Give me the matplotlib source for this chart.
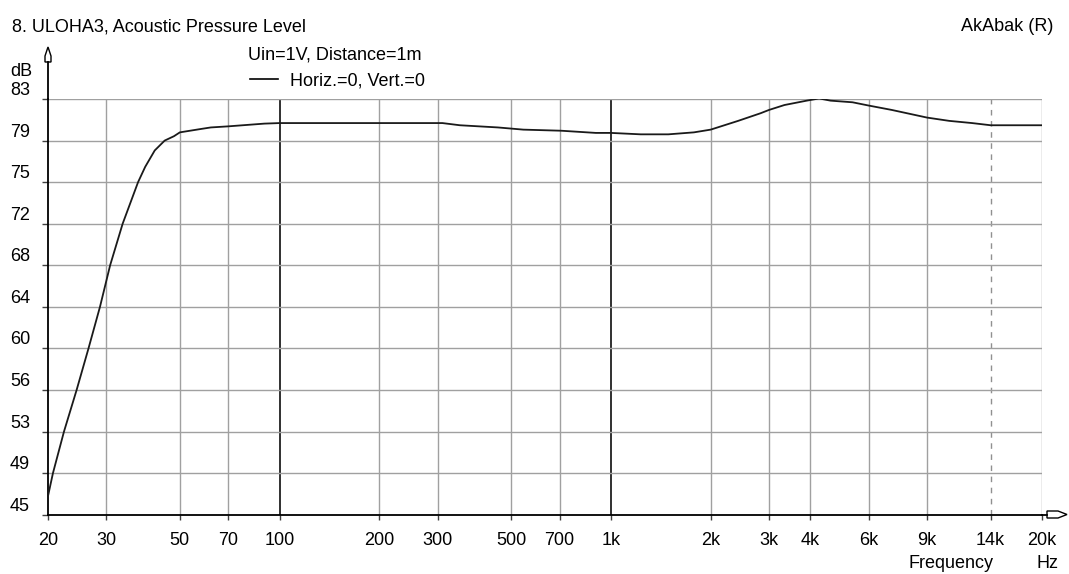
import numpy as np
import matplotlib
matplotlib.use("Agg")
import matplotlib.pyplot as plt
from matplotlib.lines import Line2D
from matplotlib.patches import Polygon

# data
freq = [20, 20.7, 22.35, 24.4, 26.5, 28.7, 30.8, 33.6, 37.4, 39.3, 42, 45, 48, 50, 57.6,
        62, 70, 90, 100, 200, 310, 350, 456, 544, 708, 900, 1000, 1230, 1490, 1780,
        2000, 2420, 2830, 3000, 3340, 3900, 4250, 4600, 5360, 6000, 7040, 9000,
        10500, 12300, 14000, 20000]
spl = [46.7, 48.8, 52.6, 56.4, 60.2, 64.0, 67.8, 71.6, 75.4, 76.8, 78.3, 79.2, 79.6,
       79.95, 80.25, 80.4, 80.5, 80.75, 80.8, 80.8, 80.8, 80.6, 80.4, 80.2, 80.1, 79.9,
       79.9, 79.77, 79.77, 79.95, 80.2, 81.0, 81.7, 82.0, 82.45, 82.85, 83.05, 82.85,
       82.7, 82.4, 82.0, 81.3, 81.0, 80.8, 80.6, 80.6]

xticks = [20, 30, 50, 70, 100, 200, 300, 500, 700, 1000, 2000, 3000, 4000, 6000,
          9000, 14000, 20000]
xlabels = ["20", "30", "50", "70", "100", "200", "300", "500", "700", "1k", "2k",
           "3k", "4k", "6k", "9k", "14k", "20k"]
yticks = [45 + 3.8 * i for i in range(11)]
ylabels = ["45", "49", "53", "56", "60", "64", "68", "72", "75", "79", "83"]

W, H = 1069, 574
plt.rcParams['font.family'] = ['Liberation Sans', 'DejaVu Sans']
fs = 13

fig = plt.figure(figsize=(W / 100, H / 100), dpi=100)
ax = fig.add_axes([48 / W, 1 - 514.7 / H, (1042 - 48) / W, (514.7 - 99) / H])


def px(x, y):
    return x / W, 1 - y / H


# grid
for f in xticks[1:]:
    if f in (100, 1000):
        ax.axvline(f, color='#202020', lw=1.3, zorder=1)
    elif f == 14000:
        ax.axvline(f, color='#909090', lw=1.0, ls=(0, (4, 4)), zorder=1)
    else:
        ax.axvline(f, color='#a0a0a0', lw=1.0, zorder=1)
for v in yticks[1:]:
    ax.axhline(v, color='#a0a0a0', lw=1.0, zorder=1)

ax.plot(freq, spl, color='#1a1a1a', lw=1.3, zorder=3)

ax.set_xscale('log')
ax.set_xlim(20, 20000)
ax.set_ylim(45, 83)
ax.set_xticks(xticks)
ax.set_xticklabels(xlabels, fontsize=fs)
ax.xaxis.set_minor_locator(plt.NullLocator())
ax.set_yticks(yticks)
ax.set_yticklabels(ylabels, fontsize=fs)
for lab in ax.get_yticklabels():
    lab.set_va('bottom')
ax.tick_params(axis='y', length=4.3, width=1, pad=8.6, color='#404040')
ax.tick_params(axis='x', length=3.6, width=1, pad=8.5, color='#404040')

for s in ('top', 'right'):
    ax.spines[s].set_visible(False)
for s in ('left', 'bottom'):
    ax.spines[s].set_color('black')
    ax.spines[s].set_linewidth(1.3)

# axis extensions with hollow arrows
fig.add_artist(Line2D(*zip(px(48, 99), px(48, 62)), color='black', lw=1.3))
fig.add_artist(Polygon([px(48, 47), px(51, 56), px(51, 62), px(45, 62), px(45, 56)],
                       closed=True, fc='white', ec='black', lw=1.0))
fig.add_artist(Line2D(*zip(px(1042, 514.7), px(1047, 514.7)), color='black', lw=1.3))
fig.add_artist(Polygon([px(1067, 514.5), px(1058, 511), px(1047, 511), px(1047, 518),
                        px(1058, 518)], closed=True, fc='white', ec='black', lw=1.0))

# texts
fig.text(*px(12, 31), "8. ULOHA3, Acoustic Pressure Level", fontsize=fs, va='baseline')
fig.text(*px(1053, 31), "AkAbak (R)", fontsize=fs, va='baseline', ha='right')
fig.text(*px(10, 76), "dB", fontsize=fs, va='baseline')
fig.text(*px(248, 59), "Uin=1V, Distance=1m", fontsize=fs, va='baseline')
fig.add_artist(Line2D(*zip(px(250, 79), px(278, 79)), color='black', lw=1.2))
fig.text(*px(290, 85), "Horiz.=0, Vert.=0", fontsize=fs, va='baseline')
fig.text(*px(993, 568), "Frequency", fontsize=fs, va='baseline', ha='right')
fig.text(*px(1048, 568), "Hz", fontsize=fs, va='baseline', ha='center')

fig.savefig("out.png", dpi=100)
